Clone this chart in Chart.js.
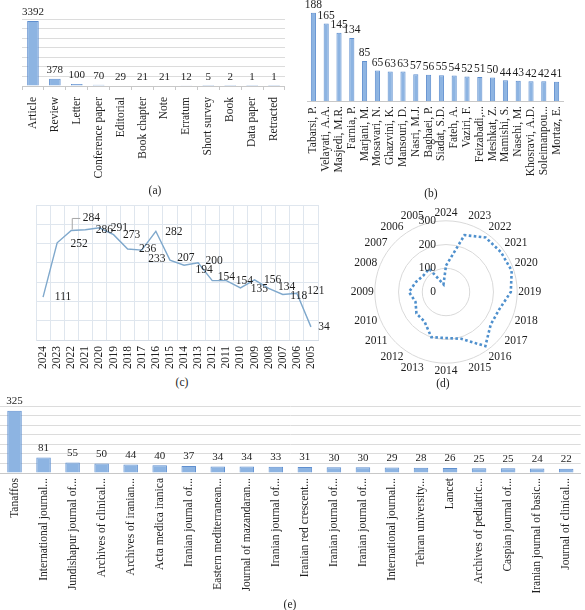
<!DOCTYPE html>
<html>
<head>
<meta charset="utf-8">
<script src="https://cdn.jsdelivr.net/npm/chart.js@4"></script>
<style>
  html, body { margin:0; padding:0; background:#ffffff; }
  #page { position:relative; width:585px; height:610px; overflow:hidden; background:#fff; }
  canvas { position:absolute; }
  .cap { position:absolute; font-family:'Liberation Serif', serif; font-size:11.5px; color:#222; transform:translateX(-50%); line-height:12px; }
</style>
</head>
<body>
<div id="page">
  <canvas id="ca" width="295" height="185" style="left:0;top:0;width:295px;height:185px"></canvas>
  <canvas id="cb" width="290" height="185" style="left:295px;top:0;width:290px;height:185px"></canvas>
  <canvas id="cc" width="340" height="180" style="left:0;top:195px;width:340px;height:180px"></canvas>
  <canvas id="cd" width="200" height="172" style="left:346px;top:207px;width:200px;height:172px"></canvas>
  <canvas id="ce" width="585" height="205" style="left:0;top:395px;width:585px;height:205px"></canvas>
  <div class="cap" style="left:155px;top:184px">(a)</div>
  <div class="cap" style="left:431px;top:187px">(b)</div>
  <div class="cap" style="left:182px;top:376px">(c)</div>
  <div class="cap" style="left:443px;top:377px">(d)</div>
  <div class="cap" style="left:290px;top:598px">(e)</div>
</div>
<script>
// ---------- DATA ----------
const typeLabels = ['Article','Review','Letter','Conference paper','Editorial','Book chapter','Note','Erratum','Short survey','Book','Data paper','Retracted'];
const typeCounts = [3392,378,100,70,29,21,21,12,5,2,1,1];

const authorLabels = ['Tabarsi, P.','Velayati, A.A.','Masjedi, M.R.','Farnia, P.','Marjani, M.','Mosavari, N.','Ghazvini, K.','Mansouri, D.','Nasri, M.J.','Baghaei, P.','Siadat, S.D.','Fateh, A.','Vaziri, F.','Feizabadi,...','Meshkat, Z.','Mamishi, S.','Nasehi, M.','Khosravi, A.D.','Soleimanpou...','Mortaz, E.'];
const authorCounts = [188,165,145,134,85,65,63,63,57,56,55,54,52,51,50,44,43,42,42,41];

const yearLabels = ['2024','2023','2022','2021','2020','2019','2018','2017','2016','2015','2014','2013','2012','2011','2010','2009','2008','2007','2006','2005'];
const yearCounts = [111,252,284,286,291,273,236,233,282,207,194,200,154,154,135,156,134,118,121,34];

const radarTicks = [0,100,200,300];

const journalLabels = ['Tanaffos','International journal...','Jundishapur journal of...','Archives of clinical...','Archives of iranian...','Acta medica iranica','Iranian journal of...','Eastern mediterranean...','Journal of mazandaran...','Iranian journal of...','Iranian red crescent...','Iranian journal of...','Iranian journal of...','International journal...','Tehran university...','Lancet','Archives of pediatric...','Caspian journal of...','Iranian journal of basic...','Journal of clinical...'];
const journalCounts = [325,81,55,50,44,40,37,34,34,33,31,30,30,29,28,26,25,25,24,22];

// ---------- STYLE ----------
const SERIF = "'Liberation Serif', 'Times New Roman', serif";
const TXT = '#1e1e1e';
const GRID = '#dcdcdc';
const BAR_FILL = '#8db4e2';
const BAR_EDGE = '#5f8fcf';

Chart.defaults.font.family = SERIF;
Chart.defaults.color = TXT;
Chart.defaults.animation = false;

const barValuePlugin = {
  id: 'barValues',
  afterDatasetsDraw(chart, args, opts) {
    const ctx = chart.ctx;
    const meta = chart.getDatasetMeta(0);
    const data = chart.data.datasets[0].data;
    ctx.save();
    ctx.font = (opts.size || 10.5) + 'px ' + SERIF;
    ctx.fillStyle = TXT;
    ctx.textAlign = 'center';
    ctx.textBaseline = 'bottom';
    meta.data.forEach((el, i) => {
      ctx.fillText(String(data[i]), el.x, el.y - (opts.gap || 3));
    });
    ctx.restore();
  }
};

function barChart(id, labels, values, cfg) {
  return new Chart(document.getElementById(id), {
    type: 'bar',
    data: { labels: labels, datasets: [{ data: values, backgroundColor: BAR_FILL, borderColor: BAR_EDGE, borderWidth: 1, barPercentage: cfg.barPct, categoryPercentage: 1 }] },
    options: {
      responsive: false,
      maintainAspectRatio: false,
      layout: { padding: cfg.padding },
      plugins: { legend: { display: false }, tooltip: { enabled: false }, barValues: { size: cfg.valSize, gap: cfg.gap } },
      scales: {
        x: {
          grid: { display: cfg.xTicks, drawOnChartArea: false, drawTicks: cfg.xTicks, tickLength: 4, color: '#c8c8c8', offset: true },
          border: { display: true, color: '#c8c8c8' },
          ticks: { autoSkip: false, minRotation: 90, maxRotation: 90, padding: cfg.labPad, font: { size: cfg.labSize, family: SERIF }, color: TXT },
          afterFit: (s) => { s.height = cfg.xHeight; }
        },
        y: {
          min: 0, max: cfg.max,
          ticks: { display: false, stepSize: cfg.step },
          grid: { display: cfg.yGrid, color: GRID, drawTicks: false },
          border: { display: false },
          afterFit: (s) => { s.width = 0; }
        }
      }
    },
    plugins: [barValuePlugin]
  });
}

// (a) document types
barChart('ca', typeLabels, typeCounts, {
  barPct: 0.53, padding: { top: 19, left: 22, right: 4, bottom: 0 },
  xHeight: 99, labPad: 7, labSize: 11.5, max: 3500, step: 500, yGrid: true, xTicks: true, valSize: 11, gap: 3
});

// (b) authors
barChart('cb', authorLabels, authorCounts, {
  barPct: 0.4, padding: { top: 7, left: 12, right: 22, bottom: 0 },
  xHeight: 84, labPad: 5, labSize: 11.5, max: 200, step: 50, yGrid: false, xTicks: false, valSize: 11.5, gap: 2
});

// (e) journals
barChart('ce', journalLabels, journalCounts, {
  barPct: 0.5, padding: { top: 11, left: 0, right: 1, bottom: 0 },
  xHeight: 127, labPad: 5, labSize: 11.5, max: 350, step: 50, yGrid: true, xTicks: false, valSize: 11, gap: 4
});

// (c) line by year
const lineLabelOffsets = [[20,0],[22,1],[20,-12],[19,0],[20,0],[18,0],[20,0],[15,9],[18,1],[16,-2],[20,5],[16,-2],[14,-4],[18,0],[19,1],[18,0],[18,-1],[16,1],[19,-2],[13,0]];
const lineValuePlugin = {
  id: 'lineValues',
  afterDatasetsDraw(chart) {
    const ctx = chart.ctx;
    const meta = chart.getDatasetMeta(0);
    const data = chart.data.datasets[0].data;
    ctx.save();
    ctx.font = '11.5px ' + SERIF;
    ctx.fillStyle = TXT;
    ctx.textAlign = 'center';
    ctx.textBaseline = 'middle';
    meta.data.forEach((el, i) => {
      const o = lineLabelOffsets[i] || [18, 0];
      if (o[1] < -8) {
        ctx.strokeStyle = '#a6a6a6';
        ctx.lineWidth = 1;
        ctx.beginPath();
        ctx.moveTo(el.x + 1, el.y - 1);
        ctx.lineTo(el.x + 1, el.y + o[1]);
        ctx.lineTo(el.x + o[0] - 11, el.y + o[1]);
        ctx.stroke();
      }
      ctx.fillText(String(data[i]), el.x + o[0], el.y + o[1]);
    });
    ctx.restore();
  }
};
new Chart(document.getElementById('cc'), {
  type: 'line',
  data: { labels: yearLabels, datasets: [{ data: yearCounts, borderColor: '#7fa8cc', borderWidth: 1.4, pointRadius: 0, tension: 0, fill: false }] },
  options: {
    responsive: false,
    maintainAspectRatio: false,
    layout: { padding: { top: 10, left: 36, right: 22, bottom: 0 } },
    plugins: { legend: { display: false }, tooltip: { enabled: false } },
    scales: {
      x: {
        offset: true,
        grid: { offset: true, color: '#dfe6ee', drawTicks: false },
        border: { display: true, color: '#d6dde6' },
        ticks: { autoSkip: false, minRotation: 90, maxRotation: 90, padding: 6, font: { size: 11.5, family: SERIF }, color: TXT },
        afterFit: (s) => { s.height = 35; }
      },
      y: {
        min: 0, max: 350,
        ticks: { display: false, stepSize: 50 },
        grid: { color: '#dfe6ee', drawTicks: false },
        border: { display: true, color: '#dfe6ee' },
        afterFit: (s) => { s.width = 0; }
      }
    }
  },
  plugins: [lineValuePlugin]
});

// (d) radar by year
const radarTickPlugin = {
  id: 'radarTicks',
  afterDraw(chart) {
    const s = chart.scales.r;
    const ctx = chart.ctx;
    ctx.save();
    ctx.font = '11.5px ' + SERIF;
    ctx.fillStyle = TXT;
    ctx.textAlign = 'right';
    ctx.textBaseline = 'middle';
    radarTicks.forEach(v => {
      ctx.fillText(String(v), s.xCenter - 10, s.yCenter - s.getDistanceFromCenterForValue(v));
    });
    ctx.restore();
  }
};
new Chart(document.getElementById('cd'), {
  type: 'radar',
  data: { labels: yearLabels, datasets: [{ data: yearCounts, borderColor: '#4f90cd', borderWidth: 2.6, borderDash: [2.6, 2.4], pointRadius: 0, fill: false, tension: 0 }] },
  options: {
    responsive: false,
    maintainAspectRatio: false,
    layout: { padding: 0 },
    plugins: { legend: { display: false }, tooltip: { enabled: false } },
    scales: {
      r: {
        min: 0, max: 300,
        ticks: { display: false, stepSize: 100 },
        grid: { circular: true, color: '#d9d9d9', lineWidth: 1 },
        angleLines: { display: false },
        pointLabels: { font: { size: 11.5, family: SERIF }, color: TXT, padding: 1 }
      }
    }
  },
  plugins: [radarTickPlugin]
});
</script>
</body>
</html>
